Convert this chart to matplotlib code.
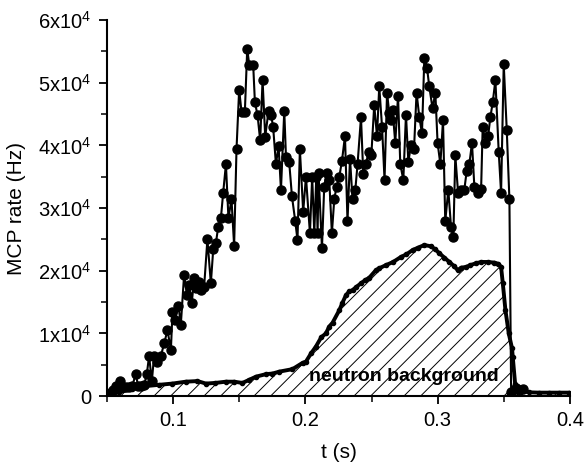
import matplotlib
matplotlib.use("Agg")
import matplotlib.pyplot as plt
from matplotlib.ticker import MultipleLocator, FixedLocator

plt.rcParams['font.family'] = ['Liberation Sans', 'DejaVu Sans']
plt.rcParams['mathtext.fontset'] = 'custom'
plt.rcParams['mathtext.rm'] = 'Liberation Sans'
plt.rcParams['hatch.linewidth'] = 0.7

# MCP rate (main series)
t_mcp = [0.0501, 0.0523, 0.0546, 0.0569, 0.0599, 0.0622, 0.0644, 0.0667, 0.0690, 0.0718,
         0.0735, 0.0758, 0.0781, 0.0801, 0.0818, 0.0839, 0.0856, 0.0881, 0.0907, 0.0932,
         0.0957, 0.0983, 0.0995, 0.1015, 0.1040, 0.1058, 0.1083, 0.1104, 0.1121, 0.1141,
         0.1159, 0.1176, 0.1197, 0.1210, 0.1234, 0.1259, 0.1285, 0.1303, 0.1323, 0.1340,
         0.1361, 0.1378, 0.1399, 0.1418, 0.1441, 0.1461, 0.1479, 0.1499, 0.1517, 0.1542,
         0.1560, 0.1575, 0.1605, 0.1618, 0.1638, 0.1658, 0.1676, 0.1696, 0.1721, 0.1741,
         0.1756, 0.1777, 0.1797, 0.1815, 0.1840, 0.1853, 0.1877, 0.1898, 0.1923, 0.1940,
         0.1958, 0.1983, 0.2004, 0.2034, 0.2051, 0.2067, 0.2082, 0.2092, 0.2099, 0.2125,
         0.2142, 0.2160, 0.2180, 0.2200, 0.2218, 0.2235, 0.2256, 0.2276, 0.2299, 0.2318,
         0.2337, 0.2356, 0.2377, 0.2394, 0.2420, 0.2437, 0.2458, 0.2477, 0.2498, 0.2520,
         0.2541, 0.2558, 0.2579, 0.2598, 0.2617, 0.2634, 0.2647, 0.2659, 0.2679, 0.2700,
         0.2717, 0.2740, 0.2760, 0.2778, 0.2798, 0.2821, 0.2840, 0.2861, 0.2881, 0.2899,
         0.2919, 0.2936, 0.2961, 0.2982, 0.2999, 0.3020, 0.3040, 0.3057, 0.3080, 0.3101,
         0.3118, 0.3133, 0.3154, 0.3179, 0.3201, 0.3219, 0.3239, 0.3259, 0.3277, 0.3302,
         0.3328, 0.3340, 0.3360, 0.3381, 0.3398, 0.3416, 0.3436, 0.3461, 0.3479, 0.3499,
         0.3522, 0.3542, 0.3555, 0.3588, 0.3618, 0.3642]
r_mcp = [200, 500, 1000, 1600, 2400, 1400, 1400, 1400, 1600, 3500,
         1600, 1600, 1800, 3500, 6400, 2400, 6400, 5500, 6400, 8400,
         10500, 7400, 13400, 12200, 14400, 11400, 19400, 16100, 17700, 14900,
         18900, 17200, 18200, 16900, 17400, 25000, 18000, 23400, 24400, 26900,
         28400, 32400, 37000, 28400, 31400, 24000, 39400, 48900, 45300, 45300,
         55400, 52900, 52900, 46900, 44800, 40800, 50400, 41400, 45500, 44800,
         42900, 37000, 39900, 32900, 45500, 38100, 37400, 31900, 27900, 24900,
         39400, 29400, 35000, 26000, 35000, 26000, 35000, 26000, 35600, 23600,
         33400, 35600, 34500, 26000, 31400, 33400, 35000, 37500, 41500, 27900,
         37900, 31400, 32900, 37000, 44500, 35500, 37000, 39000, 38400, 46400,
         41500, 49400, 43000, 34500, 48400, 45100, 44000, 45600, 40400, 47900,
         37000, 34500, 44900, 37400, 40000, 39500, 48400, 44500, 41900, 54000,
         52400, 49400, 45900, 48400, 40400, 37000, 44000, 27900, 32900, 26900,
         25400, 38400, 32400, 32900, 32900, 35900, 37000, 40400, 33400, 32400,
         33000, 43000, 40400, 41500, 44500, 46900, 50400, 39000, 32400, 53000,
         42400, 31400, 600, 1300, 1000, 1100]

# Neutron background
t_bg = [0.0493, 0.0592, 0.0692, 0.0793, 0.0894, 0.0995, 0.1096, 0.1184, 0.1247, 0.1318,
        0.1399, 0.1461, 0.1524, 0.1575, 0.1626, 0.1701, 0.1751, 0.1802, 0.1902, 0.1978,
        0.2004, 0.2042, 0.2079, 0.2120, 0.2155, 0.2180, 0.2205, 0.2256, 0.2278, 0.2306,
        0.2331, 0.2356, 0.2384, 0.2420, 0.2452, 0.2483, 0.2533, 0.2558, 0.2609, 0.2663,
        0.2722, 0.2762, 0.2810, 0.2853, 0.2899, 0.2949, 0.2982, 0.3012, 0.3050, 0.3088,
        0.3126, 0.3151, 0.3179, 0.3214, 0.3247, 0.3290, 0.3330, 0.3378, 0.3428, 0.3459,
        0.3479, 0.3492, 0.3512, 0.3537, 0.3562, 0.3567, 0.3585, 0.3612, 0.3642, 0.3693,
        0.3769, 0.3844, 0.3920, 0.3995]
r_bg = [160, 600, 1200, 1600, 1800, 2000, 2300, 2400, 2000, 2100,
        2300, 2300, 2100, 2600, 3100, 3500, 3600, 3900, 4300, 5300,
        5500, 6800, 7900, 9400, 10000, 11100, 11700, 13700, 14800, 16100,
        16700, 16900, 17400, 18000, 18500, 18900, 20100, 20400, 20900, 21400,
        22200, 22600, 23300, 23700, 24100, 23900, 23400, 22800, 22100, 21400,
        20700, 20100, 20500, 20600, 20900, 21200, 21400, 21400, 21300, 21100,
        20600, 18000, 13700, 10000, 7600, 6300, 2000, 1000, 800, 600,
        550, 550, 550, 550]

y_ticks = [0, 10000, 20000, 30000, 40000, 50000, 60000]
y_ticklabels = ['0', r'$\mathregular{1x10^4}$', r'$\mathregular{2x10^4}$', r'$\mathregular{3x10^4}$',
                r'$\mathregular{4x10^4}$', r'$\mathregular{5x10^4}$', r'$\mathregular{6x10^4}$']
x_ticks = [0.1, 0.2, 0.3, 0.4]
x_ticklabels = ['0.1', '0.2', '0.3', '0.4']

fig = plt.figure(figsize=(5.86, 4.66), dpi=100)
ax = fig.add_axes([0.1826, 0.150, 0.7901, 0.807])

ax.fill_between(t_bg, r_bg, 0, facecolor='white', edgecolor='black', hatch='//', linewidth=0)
ax.plot(t_bg, r_bg, color='black', lw=2.8, marker='o', ms=3, zorder=3)
ax.plot(t_mcp, r_mcp, color='black', lw=1.5, marker='o', ms=6.5, zorder=4)

ax.text(0.2747, 3100, 'neutron background', fontsize=14, fontweight='bold',
        ha='center', va='center', zorder=5)

ax.set_xlim(0.05, 0.4)
ax.set_ylim(0, 60000)
ax.xaxis.set_major_locator(FixedLocator(x_ticks))
ax.set_xticklabels(x_ticklabels)
ax.xaxis.set_minor_locator(MultipleLocator(0.05))
ax.yaxis.set_major_locator(FixedLocator(y_ticks))
ax.set_yticklabels(y_ticklabels)
ax.yaxis.set_minor_locator(MultipleLocator(5000))

for s in ['top', 'right']:
    ax.spines[s].set_visible(False)
for s in ['left', 'bottom']:
    ax.spines[s].set_linewidth(1.5)

ax.tick_params(which='major', direction='out', length=6, width=1.3, labelsize=14.5, pad=5)
ax.tick_params(which='minor', direction='out', length=4, width=1.1)

ax.set_xlabel('t (s)', fontsize=15, labelpad=9)
ax.set_ylabel('MCP rate (Hz)', fontsize=15, labelpad=9)

fig.savefig('out.png', dpi=100)
